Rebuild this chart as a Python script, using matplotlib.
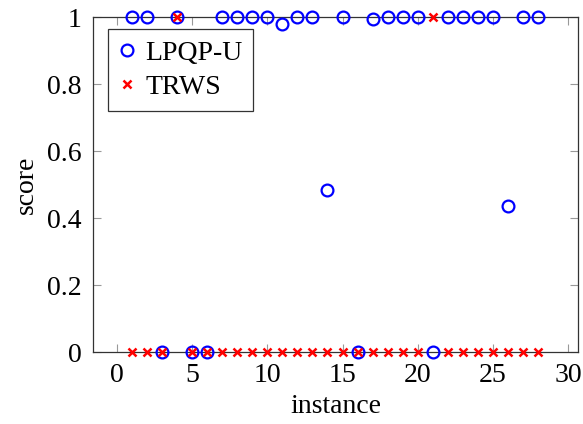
import matplotlib
matplotlib.use('Agg')
import matplotlib.pyplot as plt

# instance ids and scores
instances = list(range(1, 29))
lpqp_u = [1, 1, 0, 1, 0, 0, 1, 1, 1, 1, 0.98, 1, 1, 0.483, 1, 0, 0.995, 1, 1, 1,
          0, 1, 1, 1, 1, 0.435, 1, 1]
trws = [0, 0, 0, 1, 0, 0, 0, 0, 0, 0, 0, 0, 0, 0, 0, 0, 0, 0, 0, 0,
        1, 0, 0, 0, 0, 0, 0, 0]

xticks = [0, 5, 10, 15, 20, 25, 30]
yticks = [0, 0.2, 0.4, 0.6, 0.8, 1]

plt.rcParams['font.family'] = ['Liberation Serif', 'DejaVu Serif']
plt.rcParams['font.size'] = 20

fig = plt.figure(figsize=(5.83, 4.24), dpi=100)
ax = fig.add_axes([0.1595, 0.1698, 0.832, 0.789])

ax.plot(instances, lpqp_u, linestyle='none', marker='o', markersize=8.5,
        markerfacecolor='none', markeredgecolor='blue', markeredgewidth=1.6,
        label='LPQP-U', clip_on=False, zorder=3)
ax.plot(instances, trws, linestyle='none', marker='x', markersize=5.5,
        color='red', markeredgewidth=1.8, label='TRWS', clip_on=False, zorder=4)

ax.set_xlim(-1.6, 30.67)
ax.set_ylim(0, 1)
ax.set_xticks(xticks)
ax.set_yticks(yticks)
ax.set_xticklabels([str(t) for t in xticks])
ax.set_yticklabels(['0', '0.2', '0.4', '0.6', '0.8', '1'])
ax.tick_params(direction='in', length=6, width=0.8, color='#999999',
               top=True, right=True, pad=8)
for s in ax.spines.values():
    s.set_linewidth(0.9)
    s.set_color('#333333')

ax.set_xlabel('instance', labelpad=4)
ax.set_ylabel('score', labelpad=6)

leg = ax.legend(loc='upper left', bbox_to_anchor=(0.03, 0.965), frameon=True,
                fancybox=False, edgecolor='black', handlelength=0.6,
                handletextpad=0.35, borderpad=0.4, labelspacing=0.3,
                borderaxespad=0)
leg.get_frame().set_linewidth(0.9)

fig.savefig('out.png', dpi=100, facecolor='white')
